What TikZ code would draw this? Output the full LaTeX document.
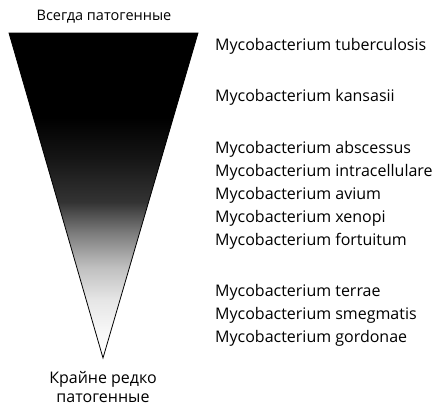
\documentclass[tikz,border=0pt]{standalone}
\usepackage{fontspec}
\setmainfont{Open Sans}
\usepackage{tikz}
\usetikzlibrary{positioning}

\pgfdeclareverticalshading{fade}{100bp}{rgb(0bp)=(1,1,1); rgb(25bp)=(1,1,1);
  rgb(29bp)=(0.97,0.97,0.97); rgb(34bp)=(0.9,0.9,0.9); rgb(39bp)=(0.75,0.75,0.75);
  rgb(44bp)=(0.5,0.5,0.5); rgb(49bp)=(0.2,0.2,0.2); rgb(56bp)=(0.08,0.08,0.08);
  rgb(62bp)=(0,0,0); rgb(100bp)=(0,0,0)}

\begin{document}
\begin{tikzpicture}[x=1pt, y=-1pt,
  cone/.style={draw=black, line width=0.8pt, shading=fade},
  lbl/.style={font=\fontsize{#1}{19}\selectfont, align=center, inner sep=0pt},
  sp/.style={font=\fontsize{16}{18}\selectfont, anchor=west, inner sep=0pt}
]
\useasboundingbox (0,0) rectangle (440,407);

\coordinate (tl) at (9,33);
\coordinate (tr) at (198,33);
\coordinate (tip) at (103,358);
\shade[cone] (tl) -- (tr) -- (tip) -- cycle;

\node[lbl=14.5] (top) at (104,17) {Всегда патогенные};
\node[lbl=16, below=13pt of tip] (bot) {Крайне редко\\патогенные};

\foreach \n/\y/\v in {m1/46/tuberculosis, m2/97/kansasii, m3/149/abscessus,
    m4/172/intracellulare, m5/195/avium, m6/218/xenopi, m7/241/fortuitum,
    m8/292/terrae, m9/315/smegmatis, m10/338/gordonae} {
  \node[sp] (\n) at (215,\y) {Mycobacterium \v};
}
\end{tikzpicture}
\end{document}
